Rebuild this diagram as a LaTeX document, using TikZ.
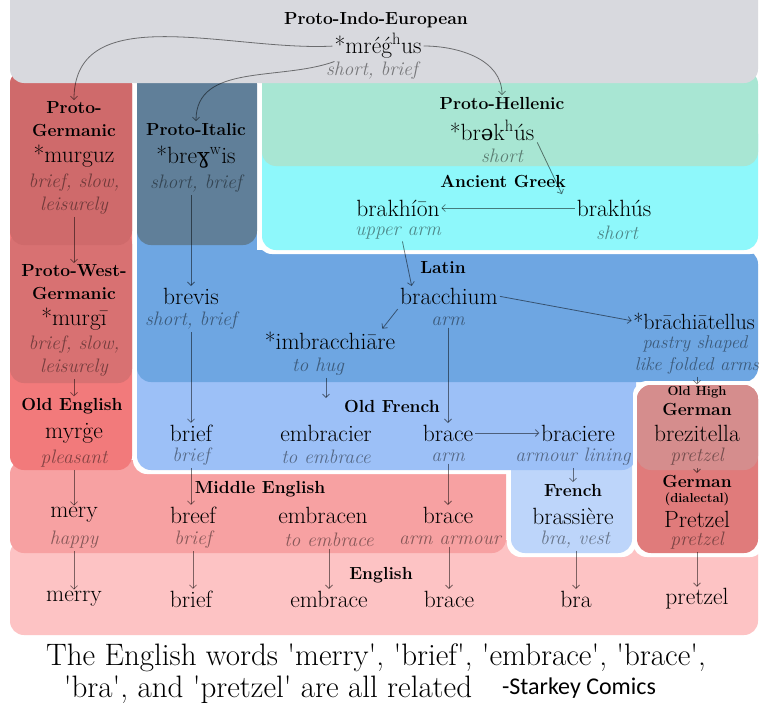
\documentclass[tikz,border=0pt]{standalone}
\usepackage{fontspec}
\newfontfamily\ipafont{DejaVu Serif}
\newfontfamily\sigfont{Carlito}
\newcommand{\ipa}[1]{{\ipafont\scalebox{0.9}{#1}}}
\newcommand{\gacute}{{\accent"00B4 g}}
\usetikzlibrary{arrows.meta,calc}
\definecolor{cGray}{HTML}{D8D9DE}
\definecolor{cPG}{HTML}{CF6A6B}
\definecolor{cPW}{HTML}{D87172}
\definecolor{cOE}{HTML}{F27A7B}
\definecolor{cPI}{HTML}{607F99}
\definecolor{cLat}{HTML}{6EA6E2}
\definecolor{cPH}{HTML}{A8E6D3}
\definecolor{cAG}{HTML}{8EF8FB}
\definecolor{cOF}{HTML}{9CC0F7}
\definecolor{cFr}{HTML}{BDD5FA}
\definecolor{cOHG}{HTML}{D58D8D}
\definecolor{cGer}{HTML}{E07B7B}
\definecolor{cME}{HTML}{F7A1A2}
\definecolor{cEn}{HTML}{FDC3C4}
\tikzset{
  region/.style={rounded corners=14pt, draw=none},
  hd/.style={inner sep=0pt, font=\bfseries\fontsize{17.5}{18}\selectfont, text=black},
  hds/.style={inner sep=0pt, font=\bfseries\fontsize{13}{13}\selectfont, text=black},
  wd/.style={inner sep=0pt, font=\fontsize{23.5}{24}\selectfont, text=black},
  wds/.style={inner sep=0pt, font=\fontsize{22}{23}\selectfont, text=black},
  gl/.style={inner sep=0pt, font=\itshape\fontsize{19.5}{20}\selectfont, text=black, text opacity=0.45},
  gls/.style={gl, font=\itshape\fontsize{18.5}{19}\selectfont},
  arr/.style={draw=black, draw opacity=0.5, line width=0.8pt, -{Straight Barb[length=3.5pt,width=7pt]}, shorten <=2pt, shorten >=1.5pt},
  captext/.style={inner sep=0pt, font=\fontsize{31}{32}\selectfont, text=black}
}
\begin{document}
\begin{tikzpicture}[x=1pt,y=-1pt]
\useasboundingbox (0,0) rectangle (768,712);
\fill[white] (0,0) rectangle (768,712);
% ---------- regions ----------
\fill[region, cEn] (10,540) rectangle (758,635);
\fill[region, cME] (10,460) rectangle (506,553);
\fill[region, cOE] (10,70) rectangle (132,470);
\fill[region, cPW] (10,230) rectangle (132,383);
\fill[region, cPG] (10,70) rectangle (132,245);
% Old French white border
\fill[region, white] (133,290) rectangle (640,474);
% French
\fill[region, white] (507,440) rectangle (636,557);
\fill[region, cFr] (511,440) rectangle (632,553);
% Old French
\fill[region, cOF] (137,290) rectangle (636,470);
% Latin
\fill[cLat] (137,200) rectangle (257,262);
\fill[region, cLat] (137,250) rectangle (758,382);
% Proto-Italic
\fill[region, cPI] (137,70) rectangle (257,245);
% Greek
\fill[region, white] (258,120) rectangle (764,254);
\fill[region, cAG] (262,120) rectangle (758,250);
\fill[region, cPH] (262,70) rectangle (758,166);
% German
\fill[region, white] (633,381) rectangle (764,557);
\fill[region, cGer] (637,385) rectangle (758,553);
\fill[region, cOHG] (637,385) rectangle (758,470);
% PIE
\fill[region, cGray] (10,-30) rectangle (758,83);
% ---------- text ----------
\node[hd] (piehd) at (376,20) {Proto-Indo-European};
\node[wd] (piew) at (378,46) {*mré\gacute\textsuperscript{h}us};
\node[gl] (piegl) at (372,71) {short, brief};

\node[hd] (pgh1) at (74,108) {Proto-};
\node[hd] (pgh2) at (74,130) {Germanic};
\node[wd] (pgw) at (74,156) {*murguz};
\node[gl] (pgg1) at (74,183) {brief, slow,};
\node[gl] (pgg2) at (74,206) {leisurely};

\node[hd] (pwh1) at (74,271) {Proto-West-};
\node[hd] (pwh2) at (74,293) {Germanic};
\node[wd] (pww) at (74,319) {*murgī};
\node[gl] (pwg1) at (74,345) {brief, slow,};
\node[gl] (pwg2) at (74,368) {leisurely};

\node[hd] (oeh) at (72,406) {Old English};
\node[wd] (oew) at (74,433) {myrġe};
\node[gl] (oeg) at (74,459) {pleasant};

\node[hd] (pih) at (196,129) {Proto-Italic};
\node[wd] (piw) at (196,157) {*bre\ipa{ɣ}\textsuperscript{w}is};
\node[gl] (pig) at (196,184) {short, brief};

\node[hd] (phh) at (502,103) {Proto-Hellenic};
\node[wd] (phw) at (492,130) {*br\ipa{ə}k\textsuperscript{h}ús};
\node[gl] (phg) at (502,156) {short};

\node[hd] (agh) at (503,181) {Ancient Greek};
\node[wd] (agw1) at (398,208) {brakhíōn};
\node[gl] (agg1) at (398,233) {upper arm};
\node[wd] (agw2) at (614,208) {brakhús};
\node[gl] (agg2) at (617,233) {short};

\node[hd] (lah) at (443,268) {Latin};
\node[wd] (law1) at (191,296) {brevis};
\node[gl] (lag1) at (191,321) {short, brief};
\node[wd] (law2) at (449,296) {bracchium};
\node[gl] (lag2) at (448,321) {arm};
\node[wd] (law3) at (330,341) {*imbracchiāre};
\node[gl] (lag3) at (318,367) {to hug};
\node[wds] (law4) at (694,321) {*brāchiātellus};
\node[gls] (lag4a) at (695,344) {pastry shaped};
\node[gls] (lag4b) at (697,366) {like folded arms};

\node[hd] (ofh) at (392,406) {Old French};
\node[wd] (ofw1) at (191,433) {brief};
\node[gl] (ofg1) at (191,457) {brief};
\node[wd] (ofw2) at (326,433) {embracier};
\node[gl] (ofg2) at (326,457) {to embrace};
\node[wd] (ofw3) at (448,433) {brace};
\node[gl] (ofg3) at (448,457) {arm};
\node[wd] (ofw4) at (578,433) {braciere};
\node[gl] (ofg4) at (573,457) {armour lining};

\node[hds] (ohh1) at (697,392) {Old High};
\node[hd] (ohh2) at (697,409) {German};
\node[wd] (ohw) at (697,433) {brezitella};
\node[gl] (ohg) at (697,457) {pretzel};

\node[hd] (geh1) at (697,481) {German};
\node[hds] (geh2) at (697,499) {(dialectal)};
\node[wd] (gew) at (697,519) {Pretzel};
\node[gl] (geg) at (697,541) {pretzel};

\node[hd] (frh) at (573,490) {French};
\node[wd] (frw) at (573,516) {brassière};
\node[gl] (frg) at (575,540) {bra, vest};

\node[hd] (meh) at (260,489) {Middle English};
\node[wd] (mew1) at (74,515) {mery};
\node[gl] (meg1) at (74,540) {happy};
\node[wd] (mew2) at (193,515) {breef};
\node[gl] (meg2) at (193,540) {brief};
\node[wd] (mew3) at (323,515) {embracen};
\node[gl] (meg3) at (329,540) {to embrace};
\node[wd] (mew4) at (448,515) {brace};
\node[gl] (meg4) at (450,540) {arm armour};

\node[hd] (enh) at (381,575) {English};
\node[wd] (enw1) at (74,599) {merry};
\node[wd] (enw2) at (191,599) {brief};
\node[wd] (enw3) at (329,599) {embrace};
\node[wd] (enw4) at (449,599) {brace};
\node[wd] (enw5) at (576,599) {bra};
\node[wd] (enw6) at (697,599) {pretzel};

\node[captext] (cap1) at (376,658) {The English words \textquotesingle merry\textquotesingle, \textquotesingle brief\textquotesingle, \textquotesingle embrace\textquotesingle, \textquotesingle brace\textquotesingle,};
\node[captext] (cap2) at (268,690) {\textquotesingle bra\textquotesingle, and \textquotesingle pretzel\textquotesingle\ are all related};
\node[inner sep=0pt, font=\sigfont\fontsize{24}{26}\selectfont] (sig) at (579,688) {-Starkey Comics};
% ---------- arrows ----------
\draw[arr] (piew.west) to[out=183,in=90] (pgh1.north);
\draw[arr] ($(piew.south west)+(2,2)$) to[out=200,in=90] (pih.north);
\draw[arr] (piew.east) to[out=0,in=90] (phh.north);
\draw[arr] (pgg2.south) -- (pwh1.north);
\draw[arr] (pwg2.south) -- (pwg2.south |- oeh.north);
\draw[arr] (oeg.south) -- (mew1.north);
\draw[arr] (meg1.south) -- (enw1.north);
\draw[arr] (pig.south -| law1.north) -- (law1.north);
\draw[arr] (lag1.south) -- (ofw1.north);
\draw[arr] (ofg1.south) -- (ofg1.south |- mew2.north);
\draw[arr] (meg2.south) -- (meg2.south |- enw2.north);
\draw[arr] ($(phw.south east)+(2,0)$) -- ($(agw2.north west)+(-14,-4)$);
\draw[arr] (agw2.west) -- (agw1.east);
\draw[arr] ($(agg1.south)+(4,0)$) -- ($(law2.north west)+(12,0)$);
\draw[arr] (law2.east) -- (law4.west);
\draw[arr] ($(law2.south west)+(-1,3)$) -- ($(law3.north east)+(-14,-2)$);
\draw[arr] ($(lag3.south)+(8,0)$) -- (ofw2.north |- ofh.north);
\draw[arr] (lag2.south) -- (ofw3.north);
\draw[arr] (ofw3.east) -- (ofw4.west);
\draw[arr] (ofg4.south) -- (frh.north);
\draw[arr] (ofg3.south) -- (mew4.north);
\draw[arr] (meg3.south) -- (meg3.south |- enw3.north);
\draw[arr] (meg4.south -| enw4.north) -- (enw4.north);
\draw[arr] (frg.south -| enw5.north) -- (enw5.north);
\draw[arr] (lag4b.south) -- (ohh1.north);
\draw[arr] (ohg.south) -- (geh1.north);
\draw[arr] (geg.south) -- (enw6.north);
\end{tikzpicture}
\end{document}
